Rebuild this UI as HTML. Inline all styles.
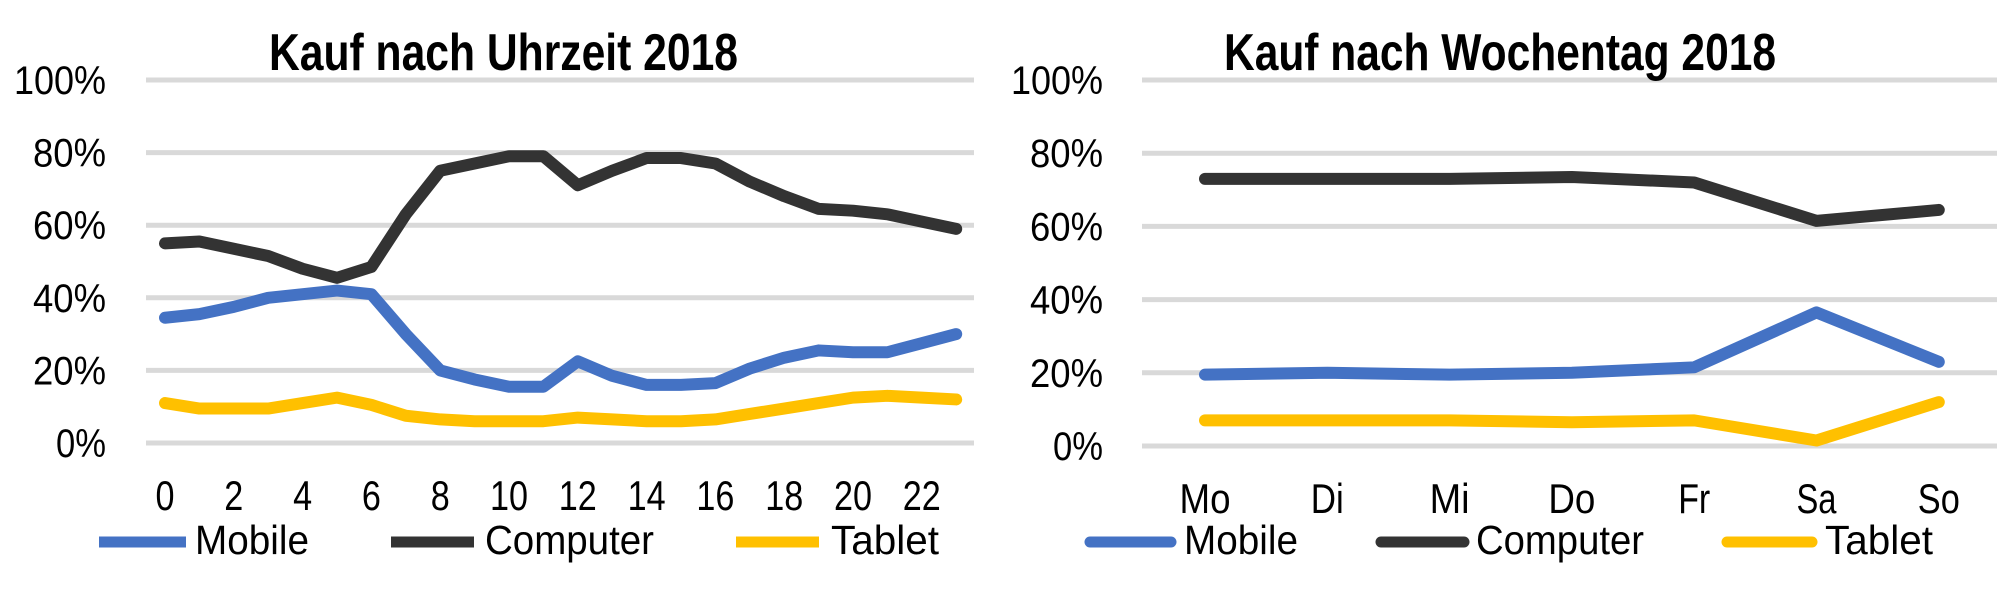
<!DOCTYPE html>
<html><head><meta charset="utf-8"><style>
html,body{margin:0;padding:0;background:#fff;}
svg{display:block;font-family:"Liberation Sans",sans-serif;}
</style></head><body>
<svg id="s" width="2000" height="606" viewBox="0 0 2000 606" xmlns="http://www.w3.org/2000/svg"></svg>
<script>
const NS="http://www.w3.org/2000/svg",s=document.getElementById('s');
function el(t,a,txt){const e=document.createElementNS(NS,t);for(const k in a)e.setAttribute(k,a[k]);if(txt!==undefined)e.textContent=txt;s.appendChild(e);return e;}
const C={m:"#4472c4",c:"#333333",t:"#ffc000"};
const dayW={Mo:51,Di:33,Mi:40,Do:47,Fr:32,Sa:40,So:42};
function chart(o){
  const y=v=>o.y0-(o.y0-o.y100)*v/100;
  for(let v=0;v<=100;v+=20){
    el('line',{x1:o.gx1,x2:o.gx2,y1:y(v),y2:y(v),stroke:"#d9d9d9","stroke-width":5});
    const t=v+"%";const w=t.length==4?92:(t.length==3?73:50);
    el('text',{x:o.lx-w,y:y(v)+14,"font-size":40,textLength:w,lengthAdjust:"spacingAndGlyphs",fill:"#000"},t);
  }
  el('text',{x:o.tx,y:70,"font-size":52,"font-weight":"bold",textLength:o.tw,lengthAdjust:"spacingAndGlyphs",fill:"#000"},o.title);
  const xs=i=>o.px0+i*o.step;
  o.xl.forEach((l,i)=>{if(l!==null){const w=dayW[l]||l.length*19;
    el('text',{x:xs(i)-w/2,y:o.xb,"font-size":42,textLength:w,lengthAdjust:"spacingAndGlyphs",fill:"#000"},l);}});
  [["t",o.t],["m",o.m],["c",o.c]].forEach(([k,d])=>{
    el('polyline',{points:d.map((v,i)=>xs(i)+","+y(v)).join(" "),fill:"none",stroke:C[k],"stroke-width":12,"stroke-linejoin":"round","stroke-linecap":"round"});
  });
  o.leg.forEach(([k,x1,x2,tx,tw,name])=>{
    el('line',{x1:x1,x2:x2,y1:542,y2:542,stroke:C[k],"stroke-width":11,"stroke-linecap":o.cap});
    el('text',{x:tx,y:554,"font-size":41,textLength:tw,lengthAdjust:"spacingAndGlyphs",fill:"#000"},name);
  });
}
const hrs=[];for(let i=0;i<24;i++)hrs.push(i%2==0?String(i):null);
chart({y0:443,y100:80,gx1:146,gx2:974,lx:106,tx:269,tw:469,title:"Kauf nach Uhrzeit 2018",
 px0:165,step:34.4,xb:510,xl:hrs,cap:"butt",
 c:[55,55.5,53.5,51.5,48,45.5,48.5,63,75,77,79,79,71,75,78.5,78.5,77,72,68,64.5,64,63,61,59],
 m:[34.5,35.5,37.5,40,41,42,41,30,20,17.5,15.5,15.5,22.5,18.5,16,16,16.5,20.5,23.5,25.5,25,25,27.5,30],
 t:[11,9.5,9.5,9.5,11,12.5,10.5,7.5,6.5,6,6,6,7,6.5,6,6,6.5,8,9.5,11,12.5,13,12.5,12],
 leg:[["m",99,186,195,114,"Mobile"],["c",391,474,485,169,"Computer"],["t",736,819,831,108,"Tablet"]]});
chart({y0:446,y100:80,gx1:1142,gx2:1997,lx:1103,tx:1224,tw:552,title:"Kauf nach Wochentag 2018",
 px0:1205,step:122.3,xb:513,xl:["Mo","Di","Mi","Do","Fr","Sa","So"],cap:"round",
 c:[73,73,73,73.5,72,61.5,64.5],
 m:[19.5,20,19.5,20,21.5,36.5,23],
 t:[7,7,7,6.5,7,1.5,12],
 leg:[["m",1090,1171,1184,114,"Mobile"],["c",1381,1464,1476,168,"Computer"],["t",1727,1812,1825,108,"Tablet"]]});
</script>
</body></html>
